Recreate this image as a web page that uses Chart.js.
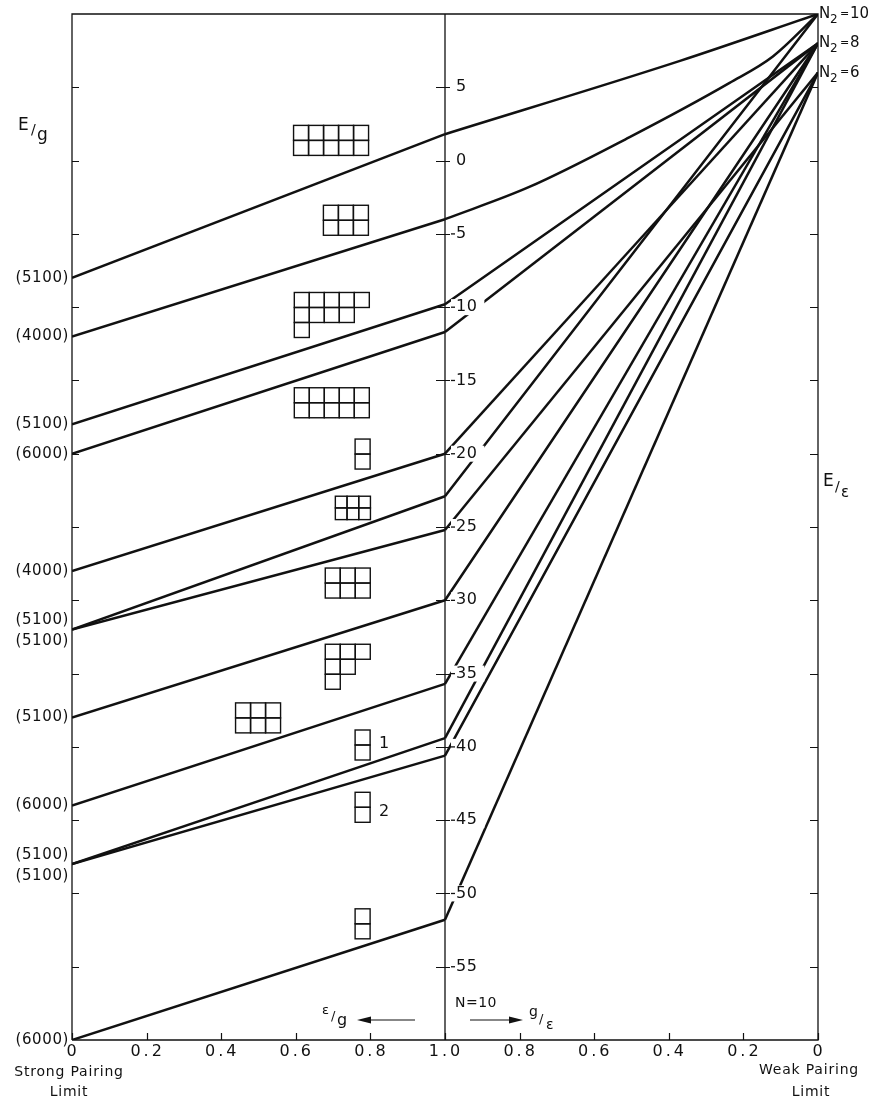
<!DOCTYPE html>
<html>
<head>
<meta charset="utf-8">
<script src="https://cdn.jsdelivr.net/npm/chart.js@4"></script>
<style>
  html, body { margin: 0; padding: 0; background: #fff; }
  #wrap { width: 871px; height: 1104px; position: relative; }
</style>
</head>
<body>
<div id="wrap"><canvas id="c" width="871" height="1104"></canvas></div>
<script>
// Level labels at the strong pairing limit (one per level, bottom-most last)
const strongLabels = ['(5100)','(4000)','(5100)','(6000)','(4000)','(5100)','(5100)','(5100)','(6000)','(5100)','(5100)','(6000)'];
// E/g at eps/g = 0
const strongLimit = [-8, -12, -18, -20, -28, -32, -32, -38, -44, -48, -48, -60];
// Energy where g = eps (centre axis)
const equalCoupling = [1.8, -4.0, -9.8, -11.7, -20.0, -22.9, -25.2, -30.0, -35.7, -39.4, -40.6, -51.8];
// Extra points: g/eps and E/eps
const weakSideG = [[0.37], [0.774, 0.505, 0.237, 0.121], [], [], [], [], [], [], [], [], [], []];
const weakSideE = [[6.8], [-1.8, 1.6, 5.3, 7.1], [], [], [], [], [], [], [], [], [], []];
// E/eps at g/eps = 0 (equals N2)
const weakLimit = [10, 10, 8, 8, 8, 10, 6, 8, 8, 8, 6, 6];
const n2Values = [10, 8, 6];

// Horizontal axis: 0..1 is eps/g, 1..2 is g/eps running back down to 0
const ratioTicks = [0, 0.2, 0.4, 0.6, 0.8, 1.0, 1.2, 1.4, 1.6, 1.8, 2.0];
const ratioTickLabels = ['0','0.2','0.4','0.6','0.8','1.0','0.8','0.6','0.4','0.2','0'];
const energyTicks = [5, 0, -5, -10, -15, -20, -25, -30, -35, -40, -45, -50, -55];

// Young tableaux drawn beside the levels: row lengths
const tableauRows = [[5,5],[3,3],[5,4,1],[5,5],[1,1],[3,3],[3,3],[3,2,1],[3,3],[1,1],[1,1],[1,1]];
// placement: top-left corner in (eps/g, E/g), cell size in px, optional tag
const tableauPlace = [
  {x:0.594, y:2.4, c:15}, {x:0.674, y:-3.05, c:15}, {x:0.596, y:-9.0, c:15},
  {x:0.596, y:-15.5, c:15}, {x:0.759, y:-19.0, c:15}, {x:0.706, y:-22.9, c:11.7},
  {x:0.679, y:-27.8, c:15}, {x:0.679, y:-33.0, c:15}, {x:0.4385, y:-37.0, c:15},
  {x:0.759, y:-38.85, c:15, tag:'1'}, {x:0.759, y:-43.1, c:15, tag:'2'}, {x:0.759, y:-51.05, c:15}
];

const FONT = '"DejaVu Sans", "Liberation Sans", sans-serif';
const INK = '#111';

const datasets = [];
strongLimit.forEach((s, i) => {
  // strong-pairing side: straight segment
  datasets.push({
    data: [{x: 0, y: s}, {x: 1, y: equalCoupling[i]}],
    borderColor: INK, borderWidth: 2.5, pointRadius: 0, showLine: true, tension: 0
  });
  // weak-pairing side: runs into its N2 value
  const pts = [{x: 1, y: equalCoupling[i]}];
  weakSideG[i].forEach((g, k) => pts.push({x: 2 - g, y: weakSideE[i][k]}));
  pts.push({x: 2, y: weakLimit[i]});
  datasets.push({
    data: pts, borderColor: INK, borderWidth: 2.5, pointRadius: 0, showLine: true,
    cubicInterpolationMode: 'monotone'
  });
});

function text(ctx, s, x, y, size, align, spacing) {
  ctx.font = size + 'px ' + FONT;
  ctx.textAlign = align || 'left';
  ctx.textBaseline = 'middle';
  ctx.letterSpacing = (spacing || 0) + 'px';
  ctx.fillStyle = INK;
  ctx.fillText(s, x, y);
  ctx.letterSpacing = '0px';
}

function arrow(ctx, x0, x1, y) {
  // shaft from x0 to head at x1
  const dir = Math.sign(x1 - x0);
  ctx.beginPath();
  ctx.moveTo(x0, y); ctx.lineTo(x1 - dir * 12, y);
  ctx.lineWidth = 1.2; ctx.strokeStyle = INK; ctx.stroke();
  ctx.beginPath();
  ctx.moveTo(x1, y); ctx.lineTo(x1 - dir * 14, y - 3.5); ctx.lineTo(x1 - dir * 14, y + 3.5);
  ctx.closePath(); ctx.fillStyle = INK; ctx.fill();
}

const decor = {
  id: 'decor',
  afterDatasetsDraw(chart) {
    const {ctx, chartArea: a, scales: {x, y}} = chart;
    const mx = x.getPixelForValue(1);
    ctx.save();
    ctx.strokeStyle = INK;
    ctx.lineCap = 'butt';

    // frame and centre axis
    ctx.lineWidth = 1.3;
    ctx.beginPath();
    ctx.moveTo(a.left, a.bottom); ctx.lineTo(a.left, a.top); ctx.lineTo(a.right, a.top); ctx.lineTo(a.right, a.bottom);
    ctx.lineTo(a.left, a.bottom);
    ctx.moveTo(mx, a.top); ctx.lineTo(mx, a.bottom);
    ctx.stroke();

    // energy ticks on the three vertical axes
    ctx.lineWidth = 1.2;
    ctx.beginPath();
    energyTicks.forEach(v => {
      const py = Math.round(y.getPixelForValue(v)) + 0.5;
      ctx.moveTo(a.left, py); ctx.lineTo(a.left + 7, py);
      ctx.moveTo(a.right - 8, py); ctx.lineTo(a.right, py);
      ctx.moveTo(mx - 9, py); ctx.lineTo(mx + 5, py);
    });
    // ratio ticks along the bottom, pointing in
    ratioTicks.forEach(v => {
      const px = Math.round(x.getPixelForValue(v)) + 0.5;
      ctx.moveTo(px, a.bottom); ctx.lineTo(px, a.bottom - 7);
    });
    ctx.stroke();

    // centre axis labels, knocked out of the lines behind them
    energyTicks.forEach(v => {
      const py = y.getPixelForValue(v);
      const mag = String(Math.abs(v));
      ctx.font = '16px ' + FONT;
      const w = ctx.measureText(mag).width;
      ctx.fillStyle = '#fff';
      ctx.fillRect(mx + 6, py - 8, w + 13, 16);
      text(ctx, mag, mx + 11, py, 16, 'left', 0.5);
      if (v < 0) {
        ctx.fillStyle = INK;
        ctx.fillRect(mx + 6, py - 0.6, 4, 1.3);
      }
    });

    // bottom tick labels
    ratioTicks.forEach((v, i) => {
      text(ctx, ratioTickLabels[i], x.getPixelForValue(v) + 1, a.bottom + 12, 16, 'center', 3);
    });

    // level labels at the strong limit (shared endpoints are split apart)
    const seen = {};
    strongLimit.forEach((s, i) => {
      const count = strongLimit.filter(t => t === s).length;
      const k = seen[s] = (seen[s] || 0) + 1;
      let py = y.getPixelForValue(s);
      if (count > 1) py += (k === 1 ? -9 : 12);
      text(ctx, strongLabels[i], a.left - 3, py, 15, 'right', 0.6);
    });

    // N2 labels at the weak limit
    n2Values.forEach(n => {
      const py = y.getPixelForValue(n);
      text(ctx, 'N', a.right + 1, py, 15, 'left');
      text(ctx, '2', a.right + 12, py + 6, 12, 'left');
      text(ctx, '=', a.right + 22, py, 11, 'left');
      text(ctx, String(n), a.right + 32, py, 15, 'left');
    });

    // axis titles
    text(ctx, 'E', 18, 126, 17, 'left');
    text(ctx, '/', 31, 130, 14, 'left');
    text(ctx, 'g', 37, 136, 17, 'left');
    text(ctx, 'E', a.right + 5, 482, 17, 'left');
    text(ctx, '/', a.right + 17, 487, 14, 'left');
    text(ctx, '\u03b5', a.right + 23, 493, 15, 'left');

    // direction arrows near the foot of the centre axis
    text(ctx, '\u03b5', 322, 1011, 13, 'left');
    text(ctx, '/', 331, 1017, 13, 'left');
    text(ctx, 'g', 337, 1021, 16, 'left');
    arrow(ctx, 415, 357, 1020);
    text(ctx, 'N=10', 455, 1003, 14, 'left', 0.5);
    arrow(ctx, 470, 523, 1020);
    text(ctx, 'g', 529, 1012, 14, 'left');
    text(ctx, '/', 539, 1020, 13, 'left');
    text(ctx, '\u03b5', 546, 1025, 14, 'left');

    // limit captions
    text(ctx, 'Strong Pairing', 69, 1072, 14, 'center', 0.8);
    text(ctx, 'Limit', 69, 1092, 14, 'center', 0.8);
    text(ctx, 'Weak Pairing', 809, 1070, 14, 'center', 0.8);
    text(ctx, 'Limit', 811, 1092, 14, 'center', 0.8);

    // Young tableaux
    ctx.lineWidth = 1.4;
    ctx.strokeStyle = INK;
    tableauRows.forEach((rows, i) => {
      const p = tableauPlace[i];
      const x0 = x.getPixelForValue(p.x), y0 = y.getPixelForValue(p.y);
      rows.forEach((n, r) => {
        for (let c = 0; c < n; c++) {
          ctx.strokeRect(x0 + c * p.c, y0 + r * p.c, p.c, p.c);
        }
      });
      if (p.tag) text(ctx, p.tag, x0 + 24, y0 + (p.tag === '1' ? 14 : 20), 16, 'left');
    });
    ctx.restore();
  }
};

new Chart(document.getElementById('c'), {
  type: 'scatter',
  data: { datasets },
  options: {
    responsive: false,
    animation: false,
    devicePixelRatio: 1,
    layout: { padding: { left: 72, right: 53, top: 14, bottom: 64 } },
    plugins: { legend: { display: false }, tooltip: { enabled: false } },
    scales: {
      x: { type: 'linear', min: 0, max: 2, display: false },
      y: { type: 'linear', min: -60, max: 10, display: false }
    }
  },
  plugins: [decor]
});
</script>
</body>
</html>
